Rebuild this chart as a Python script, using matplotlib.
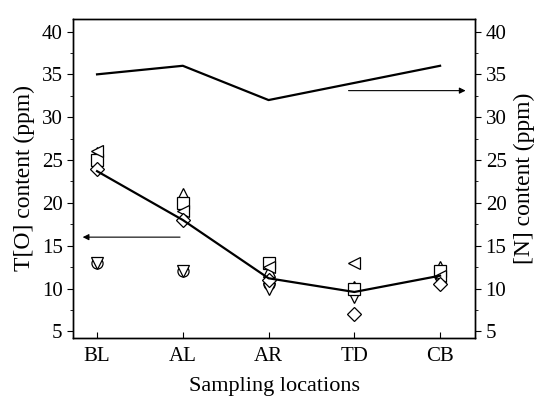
import numpy as np
import matplotlib.pyplot as plt
from matplotlib.ticker import MultipleLocator

plt.rcParams['font.family'] = ['Liberation Serif', 'DejaVu Serif']

locations = ['BL', 'AL', 'AR', 'TD', 'CB']

# individual T[O] samples at each location
to_tri_up = [25.8, 21, 12, 10.2, 12.5]
to_square = [25, 20, 13, 10, 12]
to_tri_left = [26, 19, 12.5, 13, 11.5]
to_diamond = [24, 18, 11, 7, 10.5]
to_tri_down = [13, 12, 10, 9, 11]
to_circle = [13, 12, 10.5, 10, 11.5]

# average T[O] line and N content line
to_line = [23.7, 18, 11.2, 9.6, 11.5]
n_line = [35, 36, 32, 34, 36]

x = np.arange(len(locations))

fig = plt.figure(figsize=(5.37, 3.97), dpi=100)
ax = fig.add_axes([0.136, 0.148, 0.749, 0.805])

mk = dict(linestyle='none', markerfacecolor='white', markeredgecolor='black',
          markeredgewidth=0.9)
ax.plot(x, to_circle, marker='o', markersize=8, **mk)
ax.plot(x, to_tri_down, marker='v', markersize=8, **mk)
ax.plot(x, to_tri_up, marker='^', markersize=8, **mk)
ax.plot(x, to_square, marker='s', markersize=8, **mk)
ax.plot(x, to_tri_left, marker='<', markersize=8, **mk)
ax.plot(x, to_diamond, marker='D', markersize=7, **mk)
ax.plot(x, to_line, color='black', linewidth=1.6)

ax.set_xlim(-0.28, 4.41)
ax.set_ylim(4.2, 41.5)
ax.set_xticks(x)
ax.set_xticklabels(locations)
ax.yaxis.set_major_locator(MultipleLocator(5))
ax.yaxis.set_minor_locator(MultipleLocator(2.5))
ax.tick_params(axis='x', direction='in', length=4, labelsize=15, pad=6)
ax.tick_params(axis='y', which='major', direction='out', length=4, labelsize=15)
ax.tick_params(axis='y', which='minor', direction='out', length=2.5)
ax.set_xlabel('Sampling locations', fontsize=16, labelpad=8)
ax.set_ylabel('T[O] content (ppm)', fontsize=17, labelpad=5)

ax2 = ax.twinx()
ax2.plot(x, n_line, color='black', linewidth=1.6)
ax2.set_ylim(4.2, 41.5)
ax2.yaxis.set_major_locator(MultipleLocator(5))
ax2.yaxis.set_minor_locator(MultipleLocator(2.5))
ax2.tick_params(axis='y', which='major', direction='out', length=4, labelsize=15)
ax2.tick_params(axis='y', which='minor', direction='out', length=2.5)
ax2.set_ylabel('[N] content (ppm)', fontsize=17, labelpad=5)

ax.annotate('', xy=(-0.2, 16), xytext=(1.0, 16),
            arrowprops=dict(arrowstyle='-|>', color='black', lw=0.8, mutation_scale=9))
ax.annotate('', xy=(4.33, 33.1), xytext=(2.9, 33.1),
            arrowprops=dict(arrowstyle='-|>', color='black', lw=0.8, mutation_scale=9))

for a in (ax, ax2):
    for s in a.spines.values():
        s.set_linewidth(1.0)

fig.savefig('out.png', dpi=100)
